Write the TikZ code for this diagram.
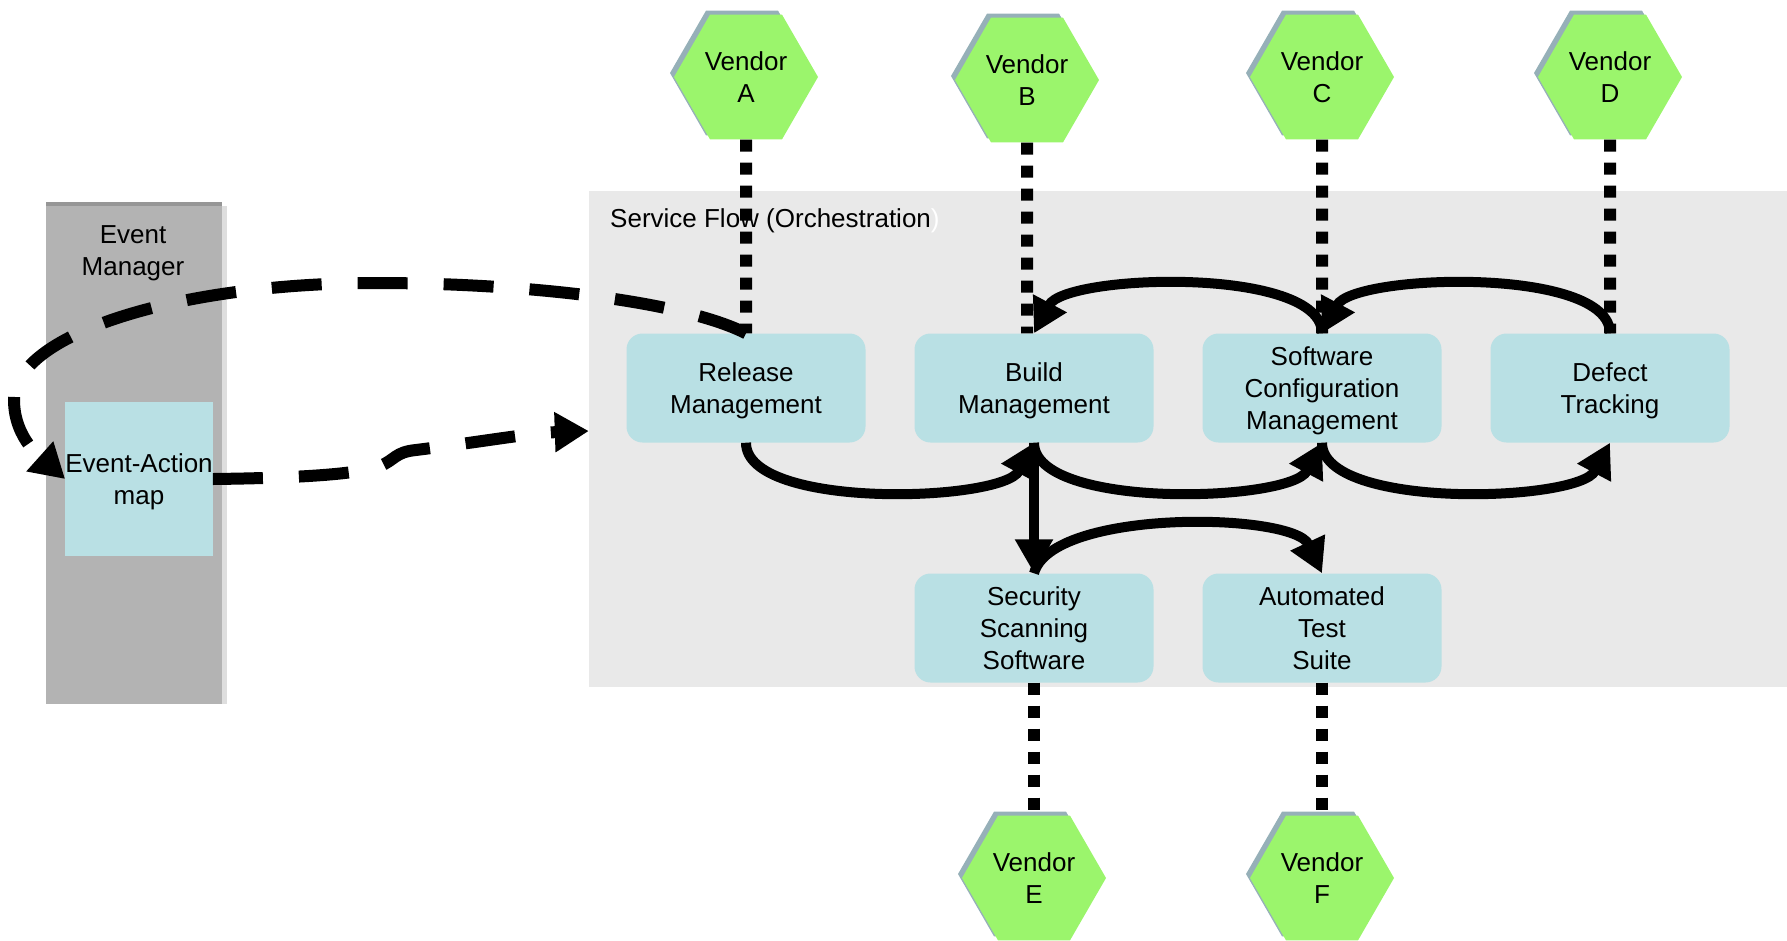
\documentclass[tikz,border=0pt]{standalone}
\usepackage{fontspec}
\setmainfont{Liberation Sans}
\usetikzlibrary{shapes.geometric,arrows.meta,shadows}

\definecolor{boxcyan}{RGB}{185,224,228}
\definecolor{flowgray}{RGB}{233,233,233}
\definecolor{emgray}{RGB}{179,179,179}
\definecolor{emdark}{RGB}{150,150,150}
\definecolor{emlight}{RGB}{222,222,222}
\definecolor{vgreen}{RGB}{155,245,108}
\definecolor{vedge}{RGB}{150,176,184}

\tikzset{
  big/.style={font=\fontsize{26}{32}\selectfont},
  svc/.style={big,
    rectangle,
    rounded corners=16pt,
    fill=boxcyan,
    minimum width=239pt,
    minimum height=109pt,
    align=center,
    text depth=-4.5pt,
    inner sep=2pt
  },
  vendor/.style={big,
    regular polygon,
    regular polygon sides=6,
    minimum size=144pt,
    inner sep=0pt,
    fill=vgreen,
    align=center,
    copy shadow={shadow xshift=-4pt, shadow yshift=4pt, fill=vedge, draw=none}
  },
  flowarrow/.style={line width=10pt, -{Triangle[length=34pt,width=36pt]}},
  vline/.style={line width=12pt, dash pattern=on 12pt off 11pt},
  evline/.style={line width=12pt, dash pattern=on 50pt off 36pt,
    -{Triangle[length=34pt,width=38pt]}},
}

\begin{document}
\begin{tikzpicture}[x=1pt, y=1pt]
    \useasboundingbox (0,0) rectangle (1787,-940);

    % event manager column
    \node (evm) [rectangle, fill=emgray, minimum width=176pt,
      minimum height=498pt, inner sep=0pt] at (134,-455) {};
    \fill[emdark] ([yshift=4pt]evm.north west) rectangle (evm.north east);
    \fill[emlight] (evm.north east) rectangle ([xshift=5pt]evm.south east);
    \node (evmtitle) [big, align=center] at (133,-253) {Event\\Manager};
    \node (eam) [big, rectangle, fill=boxcyan, minimum width=144pt,
      minimum height=154pt, inner sep=0pt, text depth=-4.5pt, align=center]
      at (139,-479) {Event-Action\\map};

    % service flow
    \node (flow) [rectangle, fill=flowgray, minimum width=1198pt,
      minimum height=496pt, inner sep=0pt] at (1188,-439) {};
    \node (flowtitle) [big, anchor=west, inner sep=0pt] at (610,-221)
      {Service Flow (Orchestration\textcolor{white}{)}};

    \node (rel) [svc] at (746,-388) {Release\\Management};
    \node (bld) [svc] at (1034,-388) {Build\\Management};
    \node (scm) [svc] at (1322,-388) {Software\\Configuration\\Management};
    \node (dft) [svc] at (1610,-388) {Defect\\Tracking};
    \node (sec) [svc] at (1034,-628) {Security\\Scanning\\Software};
    \node (ats) [svc] at (1322,-628) {Automated\\Test\\Suite};

    % vendors
    \node (vA) [vendor] at (746,-77) {Vendor\\A};
    \node (vB) [vendor] at (1027,-80) {Vendor\\B};
    \node (vC) [vendor] at (1322,-77) {Vendor\\C};
    \node (vD) [vendor] at (1610,-77) {Vendor\\D};
    \node (vE) [vendor] at (1034,-878) {Vendor\\E};
    \node (vF) [vendor] at (1322,-878) {Vendor\\F};

    \draw[vline] (vA) -- (rel);
    \draw[vline] (vB) -- (vB |- bld.north);
    \draw[vline] (vC) -- (scm);
    \draw[vline] (vD) -- (dft);
    \draw[vline] (sec) -- (vE);
    \draw[vline] (ats) -- (vF);

    \draw[flowarrow] (rel.south) to[out=-90, in=-118, looseness=0.6] (bld.south);
    \draw[flowarrow] (bld.south) to[out=-90, in=-118, looseness=0.6] (scm.south);
    \draw[flowarrow] (scm.south) to[out=-90, in=-118, looseness=0.6] (dft.south);
    \draw[flowarrow] (scm.north) to[out=90, in=62, looseness=0.6] (bld.north);
    \draw[flowarrow] (dft.north) to[out=90, in=62, looseness=0.6] (scm.north);
    \draw[flowarrow] (bld.south) -- (sec.north);
    \draw[flowarrow] (sec.north) to[out=75, in=115, looseness=0.6] (ats.north);

    % events out and back in
    \draw[evline] (rel.north) .. controls (680,-300) and (520,-283) .. (376,-283)
      .. controls (176,-283) and (14,-335) .. (14,-400)
      .. controls (14,-440) and (45,-461) .. (eam.west);
    \draw[evline] (eam.east) .. controls (300,-478) and (360,-474) .. (380,-466)
      .. controls (395,-460) and (395,-452) .. (416,-450)
      .. controls (480,-442) and (530,-433) .. ([yshift=8pt]flow.west);
\end{tikzpicture}
\end{document}
